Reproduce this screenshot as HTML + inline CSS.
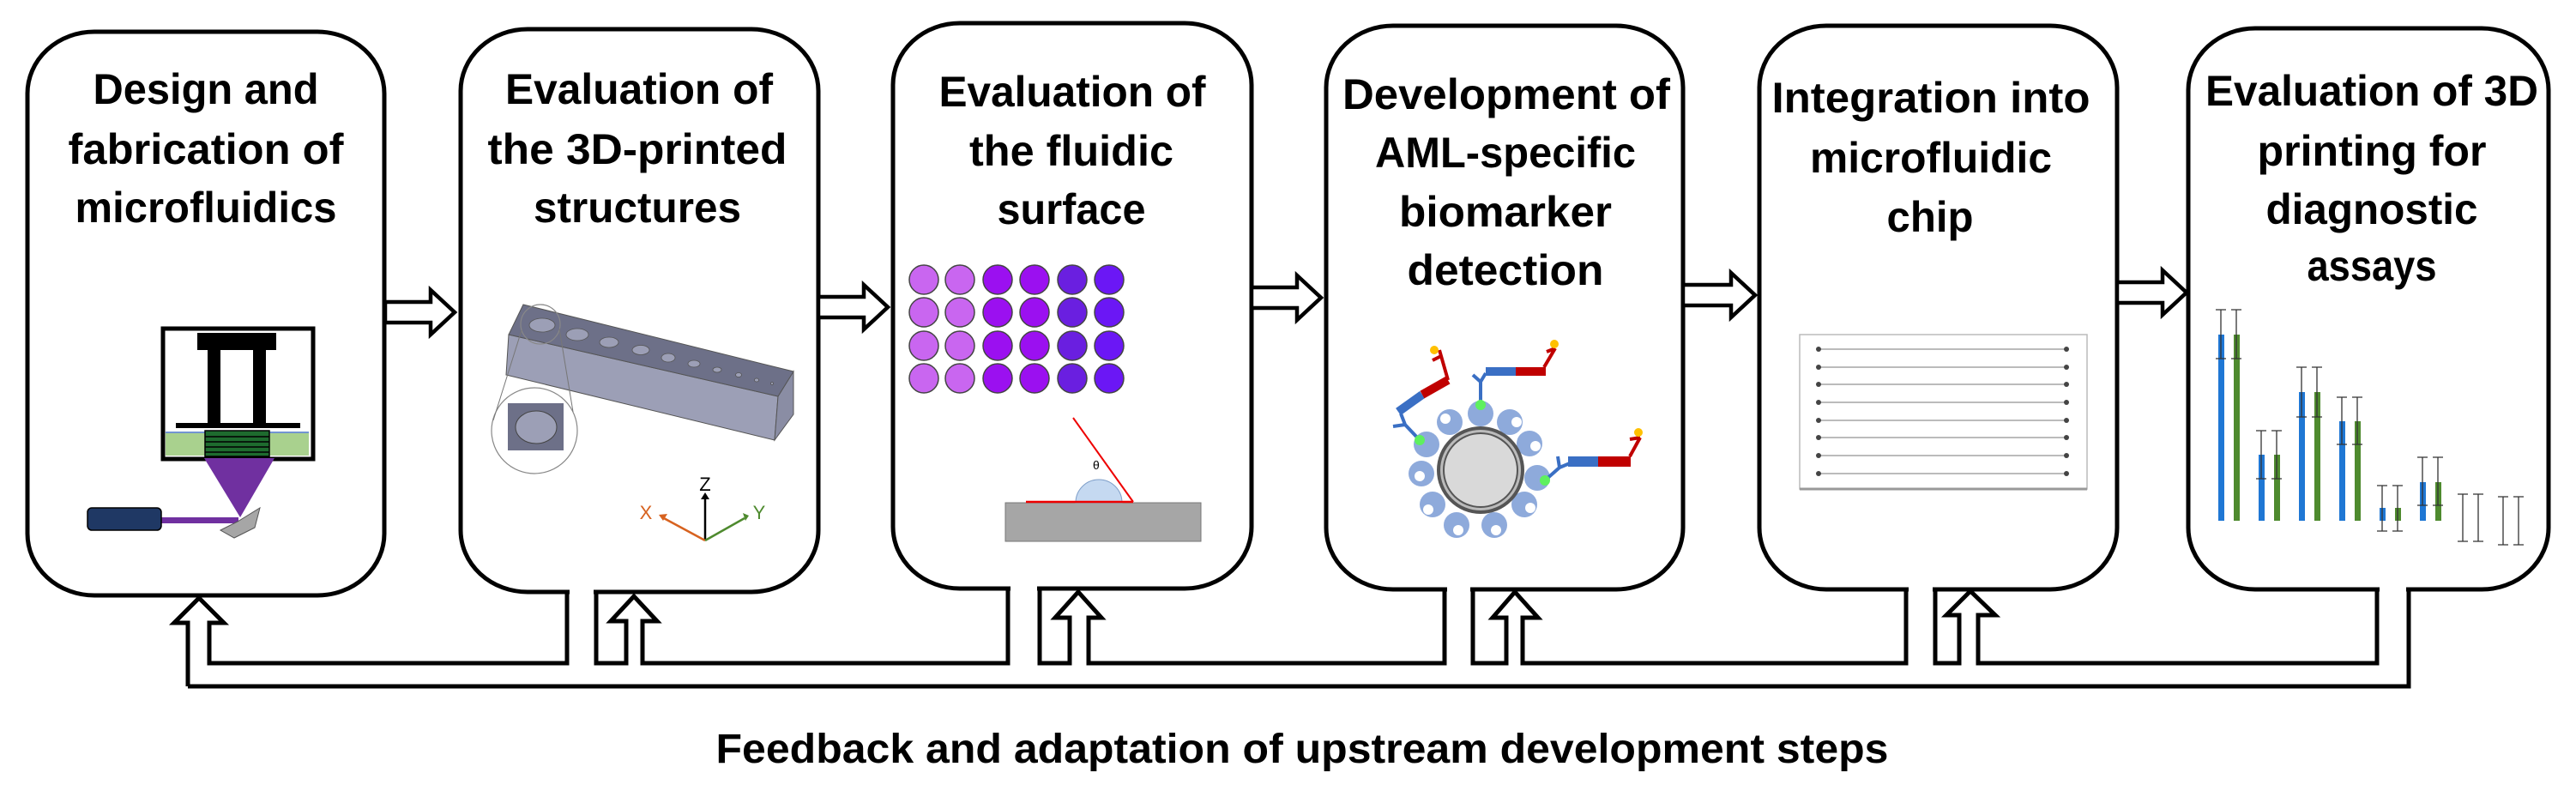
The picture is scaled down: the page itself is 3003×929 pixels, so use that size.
<!DOCTYPE html>
<html><head><meta charset="utf-8"><style>
html,body{margin:0;padding:0;background:#fff;}
svg{display:block;}
text{font-family:"Liberation Sans",sans-serif;font-weight:bold;fill:#000;}
</style></head><body>
<svg width="3003" height="929" viewBox="0 0 3003 929" xmlns="http://www.w3.org/2000/svg">
<g fill="#fff" stroke="#000" stroke-width="5">
<rect x="32" y="37" width="416" height="657" rx="78" ry="72"/>
<rect x="537" y="34" width="417" height="656" rx="78" ry="72"/>
<rect x="1041" y="27" width="418" height="659" rx="78" ry="72"/>
<rect x="1546" y="30" width="416" height="657" rx="78" ry="72"/>
<rect x="2051" y="30" width="417" height="657" rx="78" ry="72"/>
<rect x="2551" y="33" width="420" height="654" rx="78" ry="72"/>
</g>
<!-- gaps in box bottoms -->
<g fill="#fff">
<rect x="664" y="684" width="28" height="10"/>
<rect x="1178" y="680" width="31" height="10"/>
<rect x="1687" y="681" width="27" height="10"/>
<rect x="2225" y="681" width="28" height="10"/>
<rect x="2774" y="681" width="31" height="10"/>
</g>
<!-- horizontal arrows -->
<g fill="#fff" stroke="#000" stroke-width="4.5" stroke-linejoin="miter">
<path d="M449,352 L502,352 L502,338 L530,364 L502,390 L502,376 L449,376 Z"/>
<path d="M954,346 L1007,346 L1007,332 L1035,358 L1007,384 L1007,370 L954,370 Z"/>
<path d="M1459,335 L1512,335 L1512,321 L1540,347 L1512,373 L1512,359 L1459,359 Z"/>
<path d="M1962,332 L2018,332 L2018,318 L2046,344 L2018,370 L2018,356 L1962,356 Z"/>
<path d="M2468,329 L2521,329 L2521,315 L2549,341 L2521,367 L2521,353 L2468,353 Z"/>
</g>
<!-- feedback network -->
<g fill="none" stroke="#000" stroke-width="5" stroke-linejoin="miter">
<path d="M219,800 L219,726 L203,726 L232,697 L261,726 L244,726 L244,773 L661,773 L661,688"/>
<path d="M695,688 L695,773 L730,773 L730,724 L712,724 L739,695 L766,724 L749,724 L749,773 L1175,773 L1175,684"/>
<path d="M1212,684 L1212,773 L1247,773 L1247,720 L1230,720 L1257,690 L1284,720 L1269,720 L1269,773 L1684,773 L1684,685"/>
<path d="M1717,685 L1717,773 L1756,773 L1756,720 L1740,720 L1766,690 L1793,720 L1775,720 L1775,773 L2222,773 L2222,685"/>
<path d="M2256,685 L2256,773 L2284,773 L2284,717 L2269,717 L2297,689 L2326,717 L2306,717 L2306,773 L2771,773 L2771,685"/>
<path d="M219,800 L2808,800 L2808,685"/>
</g>
<!-- titles -->
<g font-size="50" text-anchor="middle">
<text x="240" y="121" textLength="263" lengthAdjust="spacingAndGlyphs">Design and</text>
<text x="240" y="191" textLength="321" lengthAdjust="spacingAndGlyphs">fabrication of</text>
<text x="240" y="259" textLength="305" lengthAdjust="spacingAndGlyphs">microfluidics</text>
<text x="745" y="121" textLength="312" lengthAdjust="spacingAndGlyphs">Evaluation of</text>
<text x="743" y="191" textLength="349" lengthAdjust="spacingAndGlyphs">the 3D-printed</text>
<text x="743" y="259" textLength="242" lengthAdjust="spacingAndGlyphs">structures</text>
<text x="1250" y="124" textLength="311" lengthAdjust="spacingAndGlyphs">Evaluation of</text>
<text x="1249" y="193" textLength="238" lengthAdjust="spacingAndGlyphs">the fluidic</text>
<text x="1249" y="261" textLength="173" lengthAdjust="spacingAndGlyphs">surface</text>
<text x="1756" y="127" textLength="382" lengthAdjust="spacingAndGlyphs">Development of</text>
<text x="1755" y="195" textLength="304" lengthAdjust="spacingAndGlyphs">AML-specific</text>
<text x="1755" y="264" textLength="248" lengthAdjust="spacingAndGlyphs">biomarker</text>
<text x="1755" y="332" textLength="229" lengthAdjust="spacingAndGlyphs">detection</text>
<text x="2251" y="131" textLength="371" lengthAdjust="spacingAndGlyphs">Integration into</text>
<text x="2251" y="201" textLength="282" lengthAdjust="spacingAndGlyphs">microfluidic</text>
<text x="2250" y="270" textLength="101" lengthAdjust="spacingAndGlyphs">chip</text>
<text x="2765" y="123" textLength="388" lengthAdjust="spacingAndGlyphs">Evaluation of 3D</text>
<text x="2765" y="193" textLength="267" lengthAdjust="spacingAndGlyphs">printing for</text>
<text x="2765" y="261" textLength="247" lengthAdjust="spacingAndGlyphs">diagnostic</text>
<text x="2765" y="327" textLength="151" lengthAdjust="spacingAndGlyphs">assays</text>
</g>
<text x="1518" y="889" font-size="48" text-anchor="middle" textLength="1367" lengthAdjust="spacingAndGlyphs">Feedback and adaptation of upstream development steps</text>

<!-- Box1 printer -->
<rect x="193" y="505" width="167" height="26" fill="#a9d18e"/>
<line x1="193" y1="504" x2="360" y2="504" stroke="#4472c4" stroke-width="1.5"/>
<rect x="239" y="502" width="75" height="30" fill="#1e6b2e" stroke="#000" stroke-width="1.5"/>
<g stroke="#000" stroke-width="1.5"><line x1="239" y1="509" x2="314" y2="509"/><line x1="239" y1="515" x2="314" y2="515"/><line x1="239" y1="521" x2="314" y2="521"/><line x1="239" y1="527" x2="314" y2="527"/></g>
<rect x="190" y="383" width="175" height="152" fill="none" stroke="#000" stroke-width="5"/>
<rect x="230" y="388" width="92" height="20" fill="#000"/>
<rect x="242" y="408" width="15" height="89" fill="#000"/>
<rect x="295" y="408" width="15" height="89" fill="#000"/>
<rect x="205" y="493" width="145" height="6" fill="#000"/>
<polygon points="238,534 320,534 280,603" fill="#7030a0"/>
<rect x="188" y="603" width="90" height="7" fill="#7030a0"/>
<rect x="102" y="592" width="86" height="26" rx="5" fill="#1f3864" stroke="#000" stroke-width="1.5"/>
<polygon points="257,618 277,608 303,592 297,615 273,627" fill="#a6a6a6" stroke="#555" stroke-width="1"/>

<!-- Box2 bar -->
<polygon points="593,390 907,462 903,513 590,437" fill="#9c9fb6" stroke="#555" stroke-width="1"/>
<polygon points="907,462 925,433 925,483 903,513" fill="#8a8da4" stroke="#555" stroke-width="1"/>
<polygon points="610,355 925,433 907,462 593,390" fill="#6d7088" stroke="#555" stroke-width="1"/>
<g fill="#9c9fb6" stroke="#555" stroke-width="0.8">
<ellipse cx="632" cy="379" rx="15" ry="8"/><ellipse cx="673" cy="390" rx="13" ry="7"/>
<ellipse cx="710" cy="399" rx="11" ry="6"/><ellipse cx="747" cy="408" rx="10" ry="5.5"/>
<ellipse cx="779" cy="417" rx="8" ry="5"/><ellipse cx="809" cy="424" rx="7" ry="4"/>
<ellipse cx="836" cy="431" rx="5" ry="3"/><ellipse cx="861" cy="437" rx="3.5" ry="2.5"/>
<ellipse cx="882" cy="443" rx="2.5" ry="2"/><ellipse cx="900" cy="447" rx="1.5" ry="1.5"/>
</g>
<circle cx="630" cy="378" r="23" fill="none" stroke="#888" stroke-width="1.2"/>
<circle cx="623" cy="502" r="50" fill="#fff" stroke="#888" stroke-width="1.2"/>
<line x1="608" y1="385" x2="575" y2="490" stroke="#777" stroke-width="1"/>
<line x1="652" y1="383" x2="668" y2="480" stroke="#777" stroke-width="1"/>
<rect x="592" y="470" width="65" height="55" fill="#6d7088"/>
<ellipse cx="625" cy="498" rx="24" ry="19" fill="#9c9fb6" stroke="#444" stroke-width="1"/>
<g stroke-width="2.5">
<line x1="822" y1="630" x2="822" y2="581" stroke="#000"/><polygon points="817,582 827,582 822,574" fill="#000"/>
<line x1="822" y1="630" x2="772" y2="603" stroke="#d7621f"/><polygon points="768,600 778,599 773,607" fill="#d7621f"/>
<line x1="822" y1="630" x2="868" y2="604" stroke="#4e8a2e"/><polygon points="873,601 866,598 869,607" fill="#4e8a2e"/>
</g>
<g font-weight="normal" font-size="22" style="font-weight:normal">
<text x="822" y="572" text-anchor="middle" font-weight="normal" style="font-weight:normal">Z</text>
<text x="753" y="605" text-anchor="middle" fill="#d7621f" style="font-weight:normal;fill:#d7621f">X</text>
<text x="885" y="605" text-anchor="middle" style="font-weight:normal;fill:#4e8a2e">Y</text>
</g>

<!-- Box3 dots -->
<g stroke="#444" stroke-width="1.5">
<g fill="#c966f0"><circle cx="1077" cy="326" r="17"/><circle cx="1119" cy="326" r="17"/><circle cx="1077" cy="364" r="17"/><circle cx="1119" cy="364" r="17"/><circle cx="1077" cy="403" r="17"/><circle cx="1119" cy="403" r="17"/><circle cx="1077" cy="441" r="17"/><circle cx="1119" cy="441" r="17"/></g>
<g fill="#9b10f0"><circle cx="1163" cy="326" r="17"/><circle cx="1206" cy="326" r="17"/><circle cx="1163" cy="364" r="17"/><circle cx="1206" cy="364" r="17"/><circle cx="1163" cy="403" r="17"/><circle cx="1206" cy="403" r="17"/><circle cx="1163" cy="441" r="17"/><circle cx="1206" cy="441" r="17"/></g>
<g fill="#6a1fe0"><circle cx="1250" cy="326" r="17"/><circle cx="1250" cy="364" r="17"/><circle cx="1250" cy="403" r="17"/><circle cx="1250" cy="441" r="17"/></g>
<g fill="#6b17f5"><circle cx="1293" cy="326" r="17"/><circle cx="1293" cy="364" r="17"/><circle cx="1293" cy="403" r="17"/><circle cx="1293" cy="441" r="17"/></g>
</g>
<rect x="1172" y="586" width="228" height="45" fill="#a6a6a6" stroke="#777" stroke-width="1"/>
<path d="M1254,586 A27,27 0 0 1 1308,586 Z" fill="#c5d9f1" stroke="#7f9fc9" stroke-width="1"/>
<line x1="1196" y1="585" x2="1321" y2="585" stroke="#e00" stroke-width="2.5"/>
<line x1="1321" y1="585" x2="1251" y2="487" stroke="#e00" stroke-width="2"/>
<text x="1274" y="547" font-size="14" style="font-weight:normal" font-family="Liberation Serif">θ</text>

<!-- Box4 biomarker -->
<g fill="#8eaadb">
<circle cx="1726" cy="482" r="15"/><circle cx="1690" cy="492" r="15"/><circle cx="1760" cy="492" r="15"/>
<circle cx="1783" cy="517" r="15"/><circle cx="1663" cy="518" r="15"/><circle cx="1792" cy="557" r="15"/>
<circle cx="1657" cy="552" r="15"/><circle cx="1670" cy="588" r="15"/><circle cx="1777" cy="588" r="15"/>
<circle cx="1698" cy="612" r="15"/><circle cx="1742" cy="612" r="15"/>
</g>
<g fill="#fff">
<circle cx="1685" cy="488" r="6"/><circle cx="1768" cy="492" r="6"/><circle cx="1790" cy="520" r="6"/>
<circle cx="1655" cy="555" r="6"/><circle cx="1665" cy="594" r="6"/><circle cx="1784" cy="592" r="6"/>
<circle cx="1700" cy="618" r="6"/><circle cx="1744" cy="618" r="6"/>
</g>
<circle cx="1726" cy="548" r="51" fill="#555"/>
<circle cx="1726" cy="548" r="47" fill="#bbb"/>
<circle cx="1726" cy="548" r="44" fill="#555"/>
<circle cx="1726" cy="548" r="42" fill="#d9d9d9"/>
<g stroke="#3a6fc4" stroke-width="4" fill="none">
<path d="M1655,513 L1638,495 M1638,495 L1624,497 M1638,495 L1633,482"/>
<path d="M1726,472 L1726,445 M1726,445 L1717,437 M1726,445 L1732,435"/>
<path d="M1801,560 L1818,545 M1818,545 L1816,532 M1818,545 L1830,540"/>
</g>
<g stroke-linecap="butt">
<line x1="1630" y1="480" x2="1658" y2="460" stroke="#3a6fc4" stroke-width="10"/>
<line x1="1658" y1="460" x2="1688" y2="443" stroke="#c00000" stroke-width="10"/>
<rect x="1732" y="428" width="35" height="10" fill="#3a6fc4"/>
<rect x="1767" y="428" width="35" height="10" fill="#c00000"/>
<rect x="1828" y="532" width="35" height="12" fill="#3a6fc4"/>
<rect x="1863" y="532" width="38" height="12" fill="#c00000"/>
</g>
<g stroke="#c00000" stroke-width="4" fill="none">
<path d="M1688,443 L1680,415 M1680,415 L1670,420 M1680,415 L1678,408"/>
<path d="M1800,428 L1813,406 M1813,406 L1803,410"/>
<path d="M1900,532 L1912,510 M1912,510 L1900,512"/>
</g>
<g fill="#ffc000"><circle cx="1672" cy="408" r="5"/><circle cx="1812" cy="401" r="5"/><circle cx="1910" cy="504" r="5"/></g>
<g fill="#5ef05e"><circle cx="1655" cy="513" r="6"/><circle cx="1726" cy="472" r="6"/><circle cx="1801" cy="560" r="6"/></g>

<!-- Box5 chip -->
<rect x="2098" y="390" width="335" height="180" fill="#fff" stroke="#bbb" stroke-width="1.5"/>
<line x1="2098" y1="570" x2="2433" y2="570" stroke="#999" stroke-width="3"/>
<g stroke="#bbb" stroke-width="2">
<line x1="2120" y1="407" x2="2409" y2="407"/><line x1="2120" y1="428" x2="2409" y2="428"/>
<line x1="2120" y1="448" x2="2409" y2="448"/><line x1="2120" y1="469" x2="2409" y2="469"/>
<line x1="2120" y1="490" x2="2409" y2="490"/><line x1="2120" y1="510" x2="2409" y2="510"/>
<line x1="2120" y1="531" x2="2409" y2="531"/><line x1="2120" y1="552" x2="2409" y2="552"/>
</g>
<g fill="#444">
<circle cx="2120" cy="407" r="3"/><circle cx="2409" cy="407" r="3"/><circle cx="2120" cy="428" r="3"/><circle cx="2409" cy="428" r="3"/>
<circle cx="2120" cy="448" r="3"/><circle cx="2409" cy="448" r="3"/><circle cx="2120" cy="469" r="3"/><circle cx="2409" cy="469" r="3"/>
<circle cx="2120" cy="490" r="3"/><circle cx="2409" cy="490" r="3"/><circle cx="2120" cy="510" r="3"/><circle cx="2409" cy="510" r="3"/>
<circle cx="2120" cy="531" r="3"/><circle cx="2409" cy="531" r="3"/><circle cx="2120" cy="552" r="3"/><circle cx="2409" cy="552" r="3"/>
</g>

<!-- Box6 bars -->
<g>
<rect x="2586" y="390" width="7" height="217" fill="#1f77d4"/><rect x="2604" y="390" width="7" height="217" fill="#4e8a2e"/>
<rect x="2633" y="530" width="7" height="77" fill="#1f77d4"/><rect x="2651" y="530" width="7" height="77" fill="#4e8a2e"/>
<rect x="2680" y="457" width="7" height="150" fill="#1f77d4"/><rect x="2698" y="457" width="7" height="150" fill="#4e8a2e"/>
<rect x="2727" y="491" width="7" height="116" fill="#1f77d4"/><rect x="2745" y="491" width="7" height="116" fill="#4e8a2e"/>
<rect x="2774" y="592" width="7" height="15" fill="#1f77d4"/><rect x="2792" y="592" width="7" height="15" fill="#4e8a2e"/>
<rect x="2821" y="562" width="7" height="45" fill="#1f77d4"/><rect x="2839" y="562" width="7" height="45" fill="#4e8a2e"/>
</g>
<g stroke="#333" stroke-width="1.3" fill="none">
<path d="M2589,361 V418 M2583,361 H2595 M2583,418 H2595 M2607,361 V418 M2601,361 H2613 M2601,418 H2613"/>
<path d="M2636,502 V558 M2630,502 H2642 M2630,558 H2642 M2654,502 V558 M2648,502 H2660 M2648,558 H2660"/>
<path d="M2683,428 V486 M2677,428 H2689 M2677,486 H2689 M2701,428 V486 M2695,428 H2707 M2695,486 H2707"/>
<path d="M2730,463 V518 M2724,463 H2736 M2724,518 H2736 M2748,463 V518 M2742,463 H2754 M2742,518 H2754"/>
<path d="M2777,566 V619 M2771,566 H2783 M2771,619 H2783 M2795,566 V619 M2789,566 H2801 M2789,619 H2801"/>
<path d="M2824,533 V589 M2818,533 H2830 M2818,589 H2830 M2842,533 V589 M2836,533 H2848 M2836,589 H2848"/>
<path d="M2871,576 V631 M2865,576 H2877 M2865,631 H2877 M2889,576 V631 M2883,576 H2895 M2883,631 H2895"/>
<path d="M2918,579 V635 M2912,579 H2924 M2912,635 H2924 M2936,579 V635 M2930,579 H2942 M2930,635 H2942"/>
</g>
</svg>
</body></html>
